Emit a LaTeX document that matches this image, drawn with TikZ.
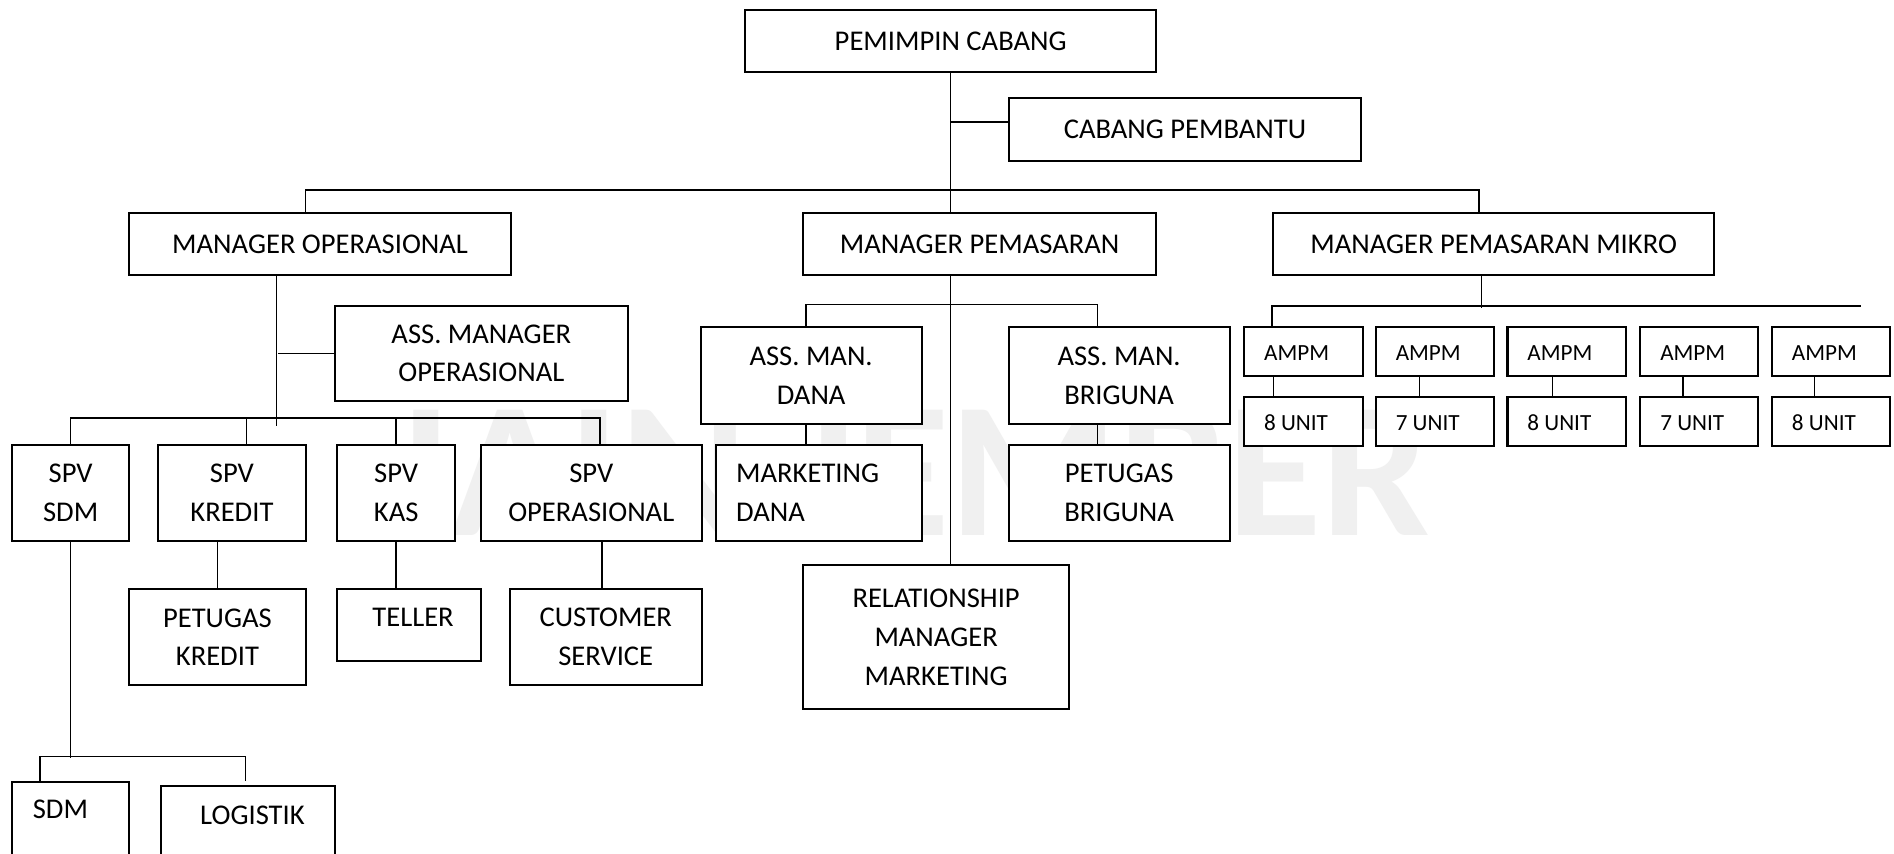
\documentclass[tikz,border=0pt]{standalone}
\usepackage{fontspec}
\setmainfont{Carlito}
\usetikzlibrary{calc}
\tikzset{
  box/.style={draw=black, fill=white, line width=1pt, inner sep=0pt, align=center,
    font=\fontsize{14.2}{19.3}\selectfont},
  lbl/.style={inner sep=0pt, align=left, font=\fontsize{14.2}{19.3}\selectfont},
  small/.style={inner sep=0pt, anchor=west, font=\fontsize{11.5}{14}\selectfont},
  conn/.style={draw=black, line width=0.8pt},
  wmark/.style={inner sep=0pt, anchor=base west, text=black!6,
    font=\fontsize{96}{96}\selectfont\bfseries}
}
\newcommand\bx[6]{\node[box, minimum width={(#4-#2)*0.6pt}, minimum height={(#5-#3)*0.6pt}] (#1) at ({(#2+#4)/2},{(#3+#5)/2}) {#6};}
\begin{document}
\begin{tikzpicture}[x=0.6pt, y=-0.6pt]
\useasboundingbox (0,0) rectangle (1568,707);
\clip (0,0) rectangle (1568,707);
\fill[white] (0,0) rectangle (1568,707);
% watermark
\node[wmark] (wm) at (331,443) {IAIN JEMBER};

% boxes
\bx{pc}{617}{8}{957}{60}{PEMIMPIN CABANG}
\bx{cp}{835}{81}{1127}{133}{CABANG PEMBANTU}
\bx{mo}{107}{176}{423}{228}{MANAGER OPERASIONAL}
\bx{mp}{665}{176}{957}{228}{MANAGER PEMASARAN}
\bx{mpm}{1054}{176}{1419}{228}{MANAGER PEMASARAN MIKRO}
\bx{amo}{277}{253}{520}{332}{ASS. MANAGER\\OPERASIONAL}
\bx{ss}{10}{368}{107}{448}{SPV\\SDM}
\bx{sk}{131}{368}{253}{448}{SPV\\KREDIT}
\bx{sks}{279}{368}{377}{448}{SPV\\KAS}
\bx{so}{398}{368}{581}{448}{SPV\\OPERASIONAL}
\bx{pk}{107}{488}{253}{567}{PETUGAS\\KREDIT}
\bx{tl}{279}{488}{398}{547}{}
\node[lbl] (tlT) at (342,511) {TELLER};
\bx{cs}{422}{488}{581}{567}{CUSTOMER\\SERVICE}
\bx{sdm}{10}{647}{107}{760}{}
\node[lbl] (sdmT) at (50,670) {SDM};
\bx{lg}{133}{651}{277}{760}{}
\node[lbl] (lgT) at (209,675) {LOGISTIK};
\bx{amd}{580}{271}{763}{351}{ASS. MAN.\\DANA}
\bx{amb}{835}{271}{1018}{351}{ASS. MAN.\\BRIGUNA}
\bx{md}{593}{368}{763}{448}{}
\node[lbl, anchor=west] (mdT) at ($(md.west)+(17,0)$) {MARKETING\\DANA};
\bx{pb}{835}{368}{1018}{448}{PETUGAS\\BRIGUNA}
\bx{rm}{665}{468}{885}{587}{RELATIONSHIP\\MANAGER\\MARKETING}

% AMPM boxes
\bx{a1}{1030}{271}{1128}{311}{}
\bx{a2}{1139}{271}{1237}{311}{}
\bx{a3}{1248}{271}{1346}{311}{}
\bx{a4}{1358}{271}{1455}{311}{}
\bx{a5}{1467}{271}{1565}{311}{}
\bx{u1}{1030}{329}{1128}{369}{}
\bx{u2}{1139}{329}{1237}{369}{}
\bx{u3}{1248}{329}{1346}{369}{}
\bx{u4}{1358}{329}{1455}{369}{}
\bx{u5}{1467}{329}{1565}{369}{}
\node[small] (a1T) at ($(a1.west)+(17,1)$) {AMPM};
\node[small] (a2T) at ($(a2.west)+(17,1)$) {AMPM};
\node[small] (a3T) at ($(a3.west)+(17,1)$) {AMPM};
\node[small] (a4T) at ($(a4.west)+(17,1)$) {AMPM};
\node[small] (a5T) at ($(a5.west)+(17,1)$) {AMPM};
\node[small] (u1T) at ($(u1.west)+(17,1)$) {8 UNIT};
\node[small] (u2T) at ($(u2.west)+(17,1)$) {7 UNIT};
\node[small] (u3T) at ($(u3.west)+(17,1)$) {8 UNIT};
\node[small] (u4T) at ($(u4.west)+(17,1)$) {7 UNIT};
\node[small] (u5T) at ($(u5.west)+(17,1)$) {8 UNIT};

% connectors: top level
\draw[conn] (pc.south) -- (pc.south |- mp.north);
\draw[conn] (pc.south |- mp.south) -- (pc.south |- rm.north);
\draw[conn] ($(cp.west)+(0,-6)$) -- ($(cp.west -| pc.south)+(0,-6)$);
\draw[conn] ($(mo.north)+(-12,0)$) -- ++(0,-18) -| ($(mpm.north)+(-12,0)$);

% manager operasional branch
\draw[conn] ($(mo.south)+(-36,0)$) -- ++(0,124);
\draw[conn] (amo.west) -- ++(-46,0);
\draw[conn] (ss.north) |- ($(so.north)+(7,-21)$) -- ($(so.north)+(7,0)$);
\draw[conn] ($(sk.north)+(12,0)$) -- ++(0,-21);
\draw[conn] (sks.north) -- ++(0,-21);
\draw[conn] (pk.north) -- (pk.north |- sk.south);
\draw[conn] (sks.south) -- (sks.south |- tl.north);
\draw[conn] ($(cs.north)+(-3,0)$) -- ($(cs.north |- so.south)+(-3,0)$);
\coordinate (sdmbus) at ($(ss.south)+(0,179)$);
\draw[conn] (ss.south) -- (sdmbus);
\draw[conn] ($(sdm.north west)+(24,0)$) |- ($(lg.north west)+(71,-24)$) -- ($(lg.north west)+(71,-4)$);

% manager pemasaran branch
\draw[conn] ($(amd.north)+(-4,0)$) |- ($(amb.north)+(-18,-18)$) -- ($(amb.north)+(-18,0)$);
\draw[conn] ($(amd.south)+(-4,0)$) -- ($(amd.south |- md.north)+(-4,0)$);
\draw[conn] ($(amb.south)+(-18,0)$) -- ($(pb.north)+(-18,0)$);

% manager pemasaran mikro branch
\draw[conn] ($(mpm.south)+(-10,0)$) -- ++(0,26);
\coordinate (mbend) at ($(a5.north east)+(-25,-17)$);
\draw[conn] ($(a1.north west)+(24,0)$) |- (mbend);
\draw[conn] ($(a1.south west)+(25,0)$) -- ($(u1.north west)+(25,0)$);
\draw[conn] ($(a2.south west)+(37,0)$) -- ($(u2.north west)+(37,0)$);
\draw[conn] ($(a3.south west)+(38,0)$) -- ($(u3.north west)+(38,0)$);
\draw[conn] ($(a4.south west)+(36,0)$) -- ($(u4.north west)+(36,0)$);
\draw[conn] ($(a5.south west)+(36,0)$) -- ($(u5.north west)+(36,0)$);
\end{tikzpicture}
\end{document}
